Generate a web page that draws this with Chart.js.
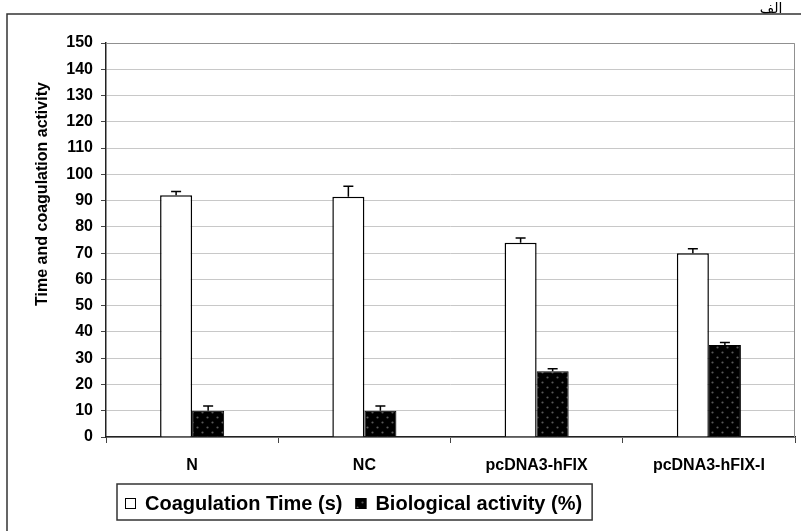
<!DOCTYPE html>
<html>
<head>
<meta charset="utf-8">
<script src="https://cdn.jsdelivr.net/npm/chart.js@4"></script>
<style>
  body { margin: 0; background: #fff; }
  canvas { display: block; }
</style>
</head>
<body>
<canvas id="chart" width="801" height="531"></canvas>
<script>
const categories = ['N', 'NC', 'pcDNA3-hFIX', 'pcDNA3-hFIX-I'];
const coagTime = [92, 91.5, 74, 70];
const coagErr = [1.5, 4, 1.8, 1.7];
const bioActivity = [10, 10, 25, 35];
const bioErr = [1.8, 1.8, 1, 1];
const seriesLabels = ['Coagulation Time (s)', 'Biological activity (%)'];
const yTitle = 'Time and coagulation activity';
const cornerText = 'الف';

const FONT = 'Arial, "Liberation Sans", sans-serif';

// dotted black fill used for the second series
function makeDots() {
  const c = document.createElement('canvas');
  c.width = 10; c.height = 10;
  const g = c.getContext('2d');
  g.fillStyle = '#000';
  g.fillRect(0, 0, 10, 10);
  g.fillStyle = '#5a5a5a';
  g.beginPath(); g.arc(2.5, 2.5, 1.1, 0, Math.PI * 2); g.fill();
  g.beginPath(); g.arc(7.5, 7.5, 1.1, 0, Math.PI * 2); g.fill();
  return g.createPattern(c, 'repeat');
}
const dots = makeDots();

const framePlugin = {
  id: 'frame',
  beforeDraw(chart) {
    const ctx = chart.ctx;
    ctx.save();
    ctx.fillStyle = '#fff';
    ctx.fillRect(0, 0, chart.width, chart.height);
    ctx.strokeStyle = '#333';
    ctx.lineWidth = 1.5;
    ctx.beginPath();
    ctx.moveTo(7, chart.height + 2);
    ctx.lineTo(7, 14);
    ctx.lineTo(chart.width + 2, 14);
    ctx.stroke();
    ctx.restore();
  },
  beforeDatasetsDraw(chart) {
    const a = chart.chartArea, ctx = chart.ctx;
    ctx.save();
    ctx.strokeStyle = '#909090';
    ctx.lineWidth = 1;
    ctx.beginPath();
    ctx.moveTo(a.left, a.top + 0.5);
    ctx.lineTo(a.right - 0.5, a.top + 0.5);
    ctx.lineTo(a.right - 0.5, a.bottom);
    ctx.stroke();
    ctx.restore();
  },
  afterDraw(chart) {
    const ctx = chart.ctx;
    const y = chart.scales.y;
    ctx.save();
    // error bars, upper side only
    const errs = [coagErr, bioErr];
    ctx.strokeStyle = '#000';
    ctx.lineWidth = 1.5;
    chart.data.datasets.forEach((ds, di) => {
      chart.getDatasetMeta(di).data.forEach((bar, i) => {
        const top = y.getPixelForValue(ds.data[i] + errs[di][i]);
        ctx.beginPath();
        ctx.moveTo(bar.x, bar.y);
        ctx.lineTo(bar.x, top);
        ctx.moveTo(bar.x - 5, top);
        ctx.lineTo(bar.x + 5, top);
        ctx.stroke();
      });
    });

    // y title
    ctx.fillStyle = '#000';
    ctx.font = 'bold 16px ' + FONT;
    ctx.textAlign = 'center';
    ctx.textBaseline = 'middle';
    ctx.translate(43, 194);
    ctx.rotate(-Math.PI / 2);
    ctx.fillText(yTitle, 0, 0);
    ctx.setTransform(1, 0, 0, 1, 0, 0);

    // legend box
    ctx.font = 'bold 20px ' + FONT;
    ctx.textAlign = 'left';
    const boxX = 117, boxY = 484, boxH = 36;
    let x = 125;
    const midY = 503;
    const fills = ['#fff', dots];
    chart.data.datasets.forEach((ds, di) => {
      ctx.fillStyle = fills[di];
      ctx.fillRect(x, midY - 5, 11, 11);
      ctx.strokeStyle = '#000';
      ctx.lineWidth = 1;
      ctx.strokeRect(x + 0.5, midY - 4.5, 10, 10);
      ctx.fillStyle = '#000';
      ctx.fillText(ds.label, x + 20, midY + 1);
      x += 20 + ctx.measureText(ds.label).width + 13;
    });
    ctx.strokeStyle = '#333';
    ctx.lineWidth = 1.5;
    ctx.strokeRect(boxX, boxY, x - boxX - 3, boxH);

    // corner label
    ctx.font = '14px "DejaVu Sans", sans-serif';
    ctx.textAlign = 'center';
    ctx.textBaseline = 'alphabetic';
    ctx.fillText(cornerText, 771, 13);
    ctx.restore();
  }
};

new Chart(document.getElementById('chart'), {
  type: 'bar',
  data: {
    labels: categories,
    datasets: [{
      label: seriesLabels[0],
      data: coagTime,
      backgroundColor: '#fff',
      borderColor: '#000',
      borderWidth: 1.5
    }, {
      label: seriesLabels[1],
      data: bioActivity,
      backgroundColor: dots,
      borderColor: '#000',
      borderWidth: 1
    }]
  },
  options: {
    responsive: false,
    animation: false,
    devicePixelRatio: 1,
    categoryPercentage: 0.372,
    barPercentage: 1,
    layout: { padding: { top: 43, right: 6, left: 0, bottom: 0 } },
    plugins: {
      legend: { display: false },
      tooltip: { enabled: false }
    },
    scales: {
      x: {
        afterFit(s) { s.height = 94; },
        grid: { drawOnChartArea: false, offset: true, tickLength: 6, tickColor: '#444' },
        border: { color: '#222', width: 1.5 },
        ticks: { color: '#000', padding: 13, maxRotation: 0, font: { family: FONT, size: 16, weight: 'bold' } }
      },
      y: {
        min: 0,
        max: 150,
        afterFit(s) { s.width = 106; },
        grid: { color: '#c8c8c8', tickLength: 5, tickColor: '#444' },
        border: { color: '#222', width: 1.5 },
        ticks: { stepSize: 10, color: '#000', padding: 8, font: { family: FONT, size: 16, weight: 'bold' } }
      }
    }
  },
  plugins: [framePlugin]
});
</script>
</body>
</html>
